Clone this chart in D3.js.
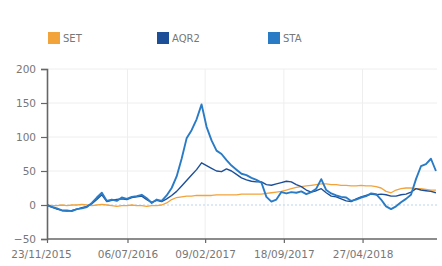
<!DOCTYPE html>
<html>
<head>
<meta charset="utf-8">
<script src="https://cdn.jsdelivr.net/npm/d3@7"></script>
<style>
  body { margin: 0; background: #fff; }
  svg { display: block; font-family: "DejaVu Sans", Verdana, sans-serif; }
</style>
</head>
<body>
<script>
// series names and colours
var seriesNames = ["SET", "AQR2", "STA"];
var seriesColors = ["#f2a33a", "#1d4f98", "#2a7bc6"];

// one sample every 14 days starting 23/11/2015
var startDate = "2015-11-23";
var stepDays = 14;

var setValues = [0, -1, -1, 0, -1, 0, 0, 1, 0, -1, 0, 1, 0, -1, -2, -1, -1, 0, -1, -1,
  -2, -1, -1, 0, 3, 8, 11, 12, 13, 13, 14, 14, 14, 14, 15, 15, 15, 15, 15, 16,
  16, 16, 16, 16, 17, 18, 19, 20, 22, 24, 26, 27, 28, 29, 30, 31, 31, 30, 30, 29,
  29, 28, 28, 29, 28, 28, 27, 25, 20, 18, 22, 24, 25, 25, 24, 24, 23, 22, 22];

var aqr2Values = [0, -3, -6, -8, -9, -8, -6, -4, -2, 2, 8, 15, 5, 7, 8, 9, 8, 11, 12, 13,
  8, 4, 7, 5, 9, 14, 20, 28, 36, 44, 52, 62, 58, 54, 50, 49, 53, 50, 45, 40,
  37, 35, 34, 34, 30, 29, 31, 33, 35, 34, 30, 27, 22, 19, 21, 24, 18, 13, 12, 9,
  6, 5, 9, 12, 14, 16, 15, 16, 15, 13, 13, 15, 16, 19, 24, 22, 21, 20, 18];

var staValues = [0, -3, -5, -8, -8, -9, -6, -5, -3, 3, 11, 18, 6, 8, 6, 11, 9, 12, 13, 15,
  10, 3, 8, 6, 14, 25, 42, 68, 98, 110, 126, 148, 115, 95, 80, 75, 66, 58, 52, 46,
  44, 40, 37, 33, 12, 5, 8, 19, 17, 19, 18, 20, 16, 19, 24, 38, 22, 17, 14, 12,
  11, 6, 8, 11, 13, 17, 16, 8, -2, -6, -2, 4, 9, 15, 38, 57, 60, 68, 50];

var yTicks = [-50, 0, 50, 100, 150, 200];
var xTickLabels = ["23/11/2015", "06/07/2016", "09/02/2017", "18/09/2017", "27/04/2018"];

var width = 442, height = 266;
var margin = {top: 69, right: 5, bottom: 27, left: 47};

var parse = d3.timeParse("%Y-%m-%d");
var parseLabel = d3.timeParse("%d/%m/%Y");
var fmt = d3.timeFormat("%d/%m/%Y");

var start = parse(startDate);
var dates = setValues.map(function(v, i) { return d3.timeDay.offset(start, i * stepDays); });

var series = [setValues, aqr2Values, staValues].map(function(vals, k) {
  return {
    name: seriesNames[k],
    color: seriesColors[k],
    values: vals.map(function(v, i) { return {date: dates[i], value: v}; })
  };
});

var svg = d3.select("body").append("svg")
  .attr("width", width)
  .attr("height", height);

var x = d3.scaleTime()
  .domain([start, parse("2018-11-22")])
  .range([margin.left, width - margin.right]);

var y = d3.scaleLinear()
  .domain([-50, 200])
  .range([height - margin.bottom, margin.top]);

var xTicks = xTickLabels.map(function(s) { return parseLabel(s); });

// grid lines
svg.append("g").selectAll("line.h")
  .data(yTicks.filter(function(d) { return d > 0; }))
  .enter().append("line")
  .attr("x1", margin.left).attr("x2", width - margin.right)
  .attr("y1", function(d) { return y(d); }).attr("y2", function(d) { return y(d); })
  .style("stroke", "#eeeeee").style("stroke-width", 1);

svg.append("g").selectAll("line.v")
  .data(xTicks.slice(1))
  .enter().append("line")
  .attr("x1", function(d) { return x(d); }).attr("x2", function(d) { return x(d); })
  .attr("y1", margin.top).attr("y2", height - margin.bottom)
  .style("stroke", "#eeeeee").style("stroke-width", 1);

// zero line
svg.append("line")
  .attr("x1", margin.left).attr("x2", width - margin.right)
  .attr("y1", y(0)).attr("y2", y(0))
  .style("stroke", "#b9d4ee").style("stroke-width", 1)
  .style("stroke-dasharray", "2,2");

// lines
var line = d3.line()
  .x(function(d) { return x(d.date); })
  .y(function(d) { return y(d.value); });

svg.append("g").selectAll("path")
  .data(series)
  .enter().append("path")
  .attr("d", function(d) { return line(d.values); })
  .style("fill", "none")
  .style("stroke", function(d) { return d.color; })
  .style("stroke-width", function(d, i) { return i == 0 ? 1.3 : (i == 1 ? 1.4 : 1.9); })
  .style("stroke-linejoin", "round");

// y axis
var yAxis = svg.append("g")
  .attr("transform", "translate(" + margin.left + ",0)")
  .call(d3.axisLeft(y).tickValues(yTicks).tickSize(6).tickPadding(5));

// x axis
var xAxis = svg.append("g")
  .attr("transform", "translate(0," + (height - margin.bottom) + ")")
  .call(d3.axisBottom(x).tickValues(xTicks).tickFormat(fmt).tickSize(4).tickPadding(8));

[yAxis, xAxis].forEach(function(a) {
  a.select(".domain").style("stroke", "#666").style("stroke-width", 1.6);
  a.selectAll(".tick line").style("stroke", "#666").style("stroke-width", 1.2);
  a.selectAll("text").style("fill", "#777").style("font-size", "10.5px")
    .style("font-family", "DejaVu Sans, Verdana, sans-serif");
});
xAxis.select(".domain").attr("d", "M" + margin.left + ",0H" + (width - margin.right));
xAxis.selectAll(".tick").filter(function(d, i) { return i == 0; })
  .select("text").attr("dx", -6);

// legend
var legendX = [48, 157, 268];
var legend = svg.append("g").selectAll("g")
  .data(series)
  .enter().append("g")
  .attr("transform", function(d, i) { return "translate(" + legendX[i] + ",32)"; });

legend.append("rect")
  .attr("width", 12).attr("height", 12)
  .style("fill", function(d) { return d.color; });

legend.append("text")
  .attr("x", 15).attr("y", 6)
  .attr("dy", "0.35em")
  .style("font-size", "10px")
  .style("fill", "#777")
  .text(function(d) { return d.name; });
</script>
</body>
</html>
